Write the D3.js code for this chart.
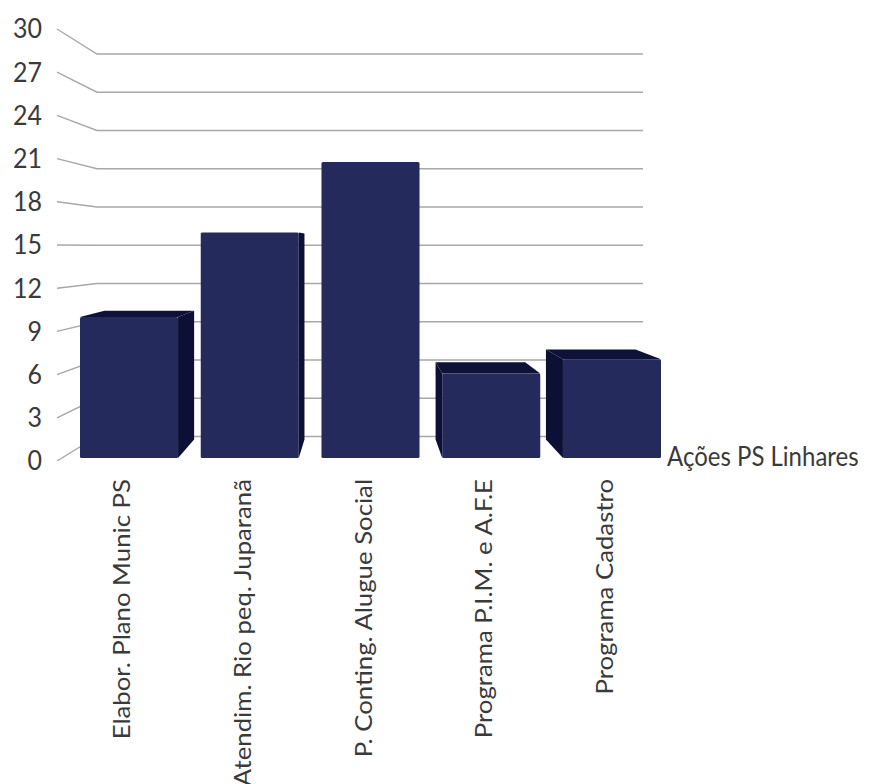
<!DOCTYPE html>
<html>
<head>
<meta charset="utf-8">
<script src="https://cdn.jsdelivr.net/npm/d3@7"></script>
<style>
  html, body { margin: 0; padding: 0; background: #ffffff; }
  svg { display: block; }
  text { font-family: Lato, "Open Sans", sans-serif; fill: #3a3a3a; }
</style>
</head>
<body>
<svg id="chart" width="878" height="784"></svg>
<script>
// ---- data ----
const categories = [
  "Elabor. Plano Munic PS",
  "Atendim. Rio peq. Juparanã",
  "P. Conting. Alugue Social",
  "Programa P.I.M. e A.F.E",
  "Programa Cadastro"
];
const values = [10, 16, 21, 6, 7];
const yTicks = [0, 3, 6, 9, 12, 15, 18, 21, 24, 27, 30];
const axisTitle = "Ações PS Linhares";

// ---- layout ----
const svg = d3.select("#chart");

// y scales: front plane (labels), back wall, bar front faces
const yFront = d3.scaleLinear().domain([0, 30]).range([461, 29]);
const yBack  = d3.scaleLinear().domain([0, 30]).range([436.5, 54]);
const yBar   = d3.scaleLinear().domain([0, 30]).range([458, 35]);

const x = d3.scaleBand().domain(categories).range([80, 661])
  .paddingInner(0.188).paddingOuter(0);

const wallFrontX = 57, wallBackX = 97, wallRightX = 643;

// perspective for bar depth
const vx = 365, vy = 244, k = 0.914;
const P = (px, py) => [vx + k * (px - vx), vy + k * (py - vy)];
const poly = pts => pts.map(p => p.join(",")).join(" ");

// ---- gridlines (side wall + back wall) ----
const grid = svg.append("g");
yTicks.forEach(t => {
  grid.append("polyline")
    .attr("points", poly([[wallFrontX, yFront(t)], [wallBackX, yBack(t)], [wallRightX, yBack(t)]]))
    .attr("fill", "none")
    .attr("stroke", "#a8a8a8")
    .attr("stroke-width", 1.4);
});

// y tick labels
svg.append("g").selectAll("text").data(yTicks).join("text")
  .attr("transform", d => `translate(42,${yFront(d)}) scale(1,1.08)`)
  .attr("dy", "0.35em")
  .attr("text-anchor", "end")
  .style("font-size", "25px")
  .text(d => d);

// ---- bars ----
const frontColor = "#242a5b";
const sideColor = "#0c1034";
const topColor = "#0e1238";
const bars = svg.append("g");
categories.forEach((c, i) => {
  const x0 = x(c), x1 = x(c) + x.bandwidth();
  const yt = yBar(values[i]), yb = yBar(0);
  const g = bars.append("g");
  if (x1 < vx) {
    g.append("polygon").attr("points", poly([[x1, yt], P(x1, yt), P(x1, yb), [x1, yb]]))
      .attr("fill", sideColor);
  }
  if (x0 > vx) {
    g.append("polygon").attr("points", poly([[x0, yt], P(x0, yt), P(x0, yb), [x0, yb]]))
      .attr("fill", sideColor);
  }
  if (yt > vy) {
    g.append("polygon").attr("points", poly([[x0, yt], [x1, yt], P(x1, yt), P(x0, yt)]))
      .attr("fill", topColor);
  }
  g.append("rect")
    .attr("x", x0).attr("y", yt)
    .attr("width", x1 - x0).attr("height", yb - yt)
    .attr("rx", 1.5)
    .attr("fill", frontColor);
});

// ---- category labels ----
svg.append("g").selectAll("text").data(categories).join("text")
  .attr("transform", d => `translate(${x(d) + x.bandwidth() / 2 - 7},479) scale(1,1.12) rotate(-90)`)
  .attr("dy", "0.35em")
  .attr("text-anchor", "end")
  .style("font-size", "23px")
  .text(d => d);

// axis title
svg.append("text")
  .attr("transform", "translate(667,466) scale(1,1.1)")
  .style("font-size", "24px")
  .text(axisTitle);
</script>
</body>
</html>
